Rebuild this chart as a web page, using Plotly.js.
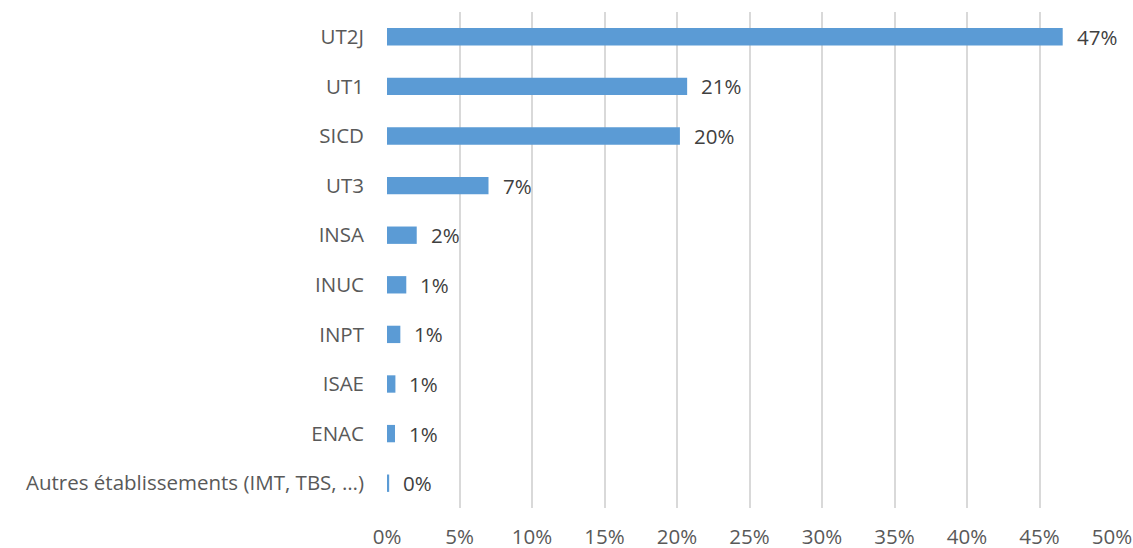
<!DOCTYPE html>
<html><head><meta charset="utf-8">
<script src="https://cdn.plot.ly/plotly-3.0.1.min.js"></script>
<style>html,body{margin:0;padding:0;background:#fff}#c{width:1133px;height:548px}</style>
</head><body><div id="c"></div>
<script>
const categories = ["UT2J","UT1","SICD","UT3","INSA","INUC","INPT","ISAE","ENAC","Autres établissements (IMT, TBS, …)"];
const values = [46.6, 20.7, 20.2, 7.0, 2.05, 1.33, 0.92, 0.58, 0.55, 0.15];
const labels = ["47%","21%","20%","7%","2%","1%","1%","1%","1%","0%"];
const xTicks = [0,5,10,15,20,25,30,35,40,45,50];
const xTickText = xTicks.map(v => v + "%");

const font = "'Open Sans', Lato, sans-serif";
const trace = {
  type: "bar", orientation: "h",
  y: categories, x: values,
  marker: {color: "#5B9BD5", line: {width: 0}},
  hoverinfo: "skip"
};
const annotations = categories.map((c, i) => ({
  x: values[i], y: c, xref: "x", yref: "y",
  text: labels[i], showarrow: false, xanchor: "left", yanchor: "middle",
  xshift: 12, font: {family: font, size: 20.5, color: "#404040"}
}));
const layout = {
  width: 1133, height: 548,
  margin: {l: 387, r: 21, t: 12, b: 40},
  paper_bgcolor: "#fff", plot_bgcolor: "#fff",
  showlegend: false, bargap: 0.65,
  xaxis: {range: [0, 50], tickvals: xTicks, ticktext: xTickText, showgrid: true,
    gridcolor: "#D9D9D9", gridwidth: 2, zeroline: false, showline: false,
    ticks: "", ticklabelstandoff: 14, tickfont: {family: font, size: 20.5, color: "#595959"}},
  yaxis: {autorange: "reversed", showgrid: false, zeroline: false, showline: false,
    ticks: "", ticklabelstandoff: 22, tickfont: {family: font, size: 20.5, color: "#595959"}},
  annotations: annotations
};
Plotly.newPlot("c", [trace], layout, {displayModeBar: false, staticPlot: true});
</script></body></html>
